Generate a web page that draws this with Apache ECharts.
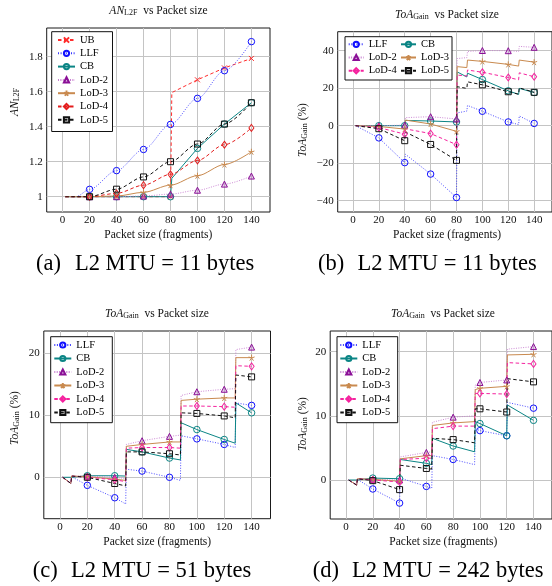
<!DOCTYPE html>
<html>
<head>
<meta charset="utf-8">
<script src="https://cdn.jsdelivr.net/npm/echarts@6/dist/echarts.min.js"></script>
<style>
html, body { margin: 0; padding: 0; background: #fff; }
#chart { width: 552px; height: 586px; }
</style>
</head>
<body>
<div id="chart"></div>
<script>
// Packet sizes (fragments) that carry a marker
const xTicks = [0, 20, 40, 60, 80, 100, 120, 140];

// (a) AN_L2F, L2 MTU = 11 bytes — [packet size, value]
const a_UB   = [[2,1],[20,1],[40,1],[60,1],[80,1],[81,1.595],[100,1.668],[120,1.736],[140,1.79]];
const a_LLF  = [[2,1],[10,1],[20,1.042],[40,1.149],[60,1.27],[80,1.413],[100,1.562],[120,1.72],[140,1.886]];
const a_CB   = [[2,1],[20,1],[40,1],[60,1],[80,1],[81,1.105],[100,1.276],[120,1.415],[140,1.537]];
const a_LoD2 = [[2,1],[20,1],[40,1],[60,1.004],[80,1.015],[100,1.037],[120,1.072],[140,1.118]];
const a_LoD3 = [[2,1],[20,1],[40,1.004],[60,1.025],[80,1.066],[100,1.12],[120,1.184],[140,1.257]];
const a_LoD4 = [[2,1],[20,1],[40,1.019],[60,1.066],[80,1.128],[100,1.207],[120,1.297],[140,1.393]];
const a_LoD5 = [[2,1],[20,1],[40,1.043],[60,1.113],[80,1.2],[100,1.301],[120,1.415],[140,1.537]];
const a_yTicks = [1, 1.2, 1.4, 1.6, 1.8];

// (b) ToA gain (%), L2 MTU = 11 bytes
const b_LLF  = [[2,0],[20,-6.5],[40,-19.7],[40.5,-15.2],[60,-25.8],[80,-38.3],[80.5,6.8],[88,7.8],[88.5,10.8],[100,7.7],[120,2.0],[128,0.6],[128.5,5.2],[140,1.2]];
const b_CB   = [[2,0],[20,0],[40,0],[40.5,2.8],[60,2.5],[80,2.0],[80.5,28.7],[88,26.0],[88.5,28.0],[100,24.6],[120,18.6],[128,16.7],[128.5,19.9],[140,17.7]];
const b_LoD2 = [[2,0],[20,0],[40,0.3],[40.5,4.3],[60,4.8],[80,3.6],[80.5,35.8],[88,36.3],[88.5,39.6],[100,40.1],[120,40.0],[128,39.6],[128.5,42.3],[140,41.8]];
const b_LoD3 = [[2,0],[20,-0.4],[40,-1.8],[40.5,3.0],[60,0.9],[80,-3.0],[80.5,31.5],[88,31.0],[88.5,35.0],[100,34.3],[120,32.7],[128,31.8],[128.5,35.0],[140,33.9]];
const b_LoD4 = [[2,0],[20,-1.0],[40,-4.5],[40.5,-1.7],[60,-4.2],[80,-10.1],[80.5,27.0],[88,26.5],[88.5,29.7],[100,28.5],[120,25.7],[128,24.5],[128.5,28.2],[140,26.1]];
const b_LoD5 = [[2,0],[20,-1.6],[40,-8.0],[40.5,-3.4],[60,-10.0],[80,-18.5],[80.5,20.8],[88,19.9],[88.5,23.4],[100,21.8],[120,18.1],[128,16.8],[128.5,20.2],[140,17.8]];
const b_yTicks = [-40, -20, 0, 20, 40];

// (c) ToA gain (%), L2 MTU = 51 bytes
const c_LLF  = [[2,0],[8,-1.0],[8.5,0.1],[20,-1.3],[40,-3.3],[48,-4.3],[48.5,1.3],[60,1.0],[80,0.0],[88,-0.5],[88.5,6.7],[100,6.2],[120,5.3],[128,4.8],[128.5,12.0],[140,11.6]];
const c_CB   = [[2,0],[8,0],[8.5,0.2],[20,0.25],[40,0.25],[48,0.2],[48.5,4.5],[60,4.1],[80,3.1],[88,2.8],[88.5,8.8],[100,7.7],[120,6.1],[128,5.5],[128.5,12.0],[140,10.4]];
const c_LoD2 = [[2,0],[8,-1.0],[8.5,0.2],[20,0.2],[40,0.0],[48,-0.2],[48.5,5.3],[60,5.9],[80,6.6],[88,6.8],[88.5,13.2],[100,13.8],[120,14.2],[128,14.3],[128.5,20.6],[140,21.0]];
const c_LoD3 = [[2,0],[8,-1.0],[8.5,0.2],[20,0.1],[40,-0.3],[48,-0.5],[48.5,5.0],[60,5.3],[80,5.7],[88,5.7],[88.5,12.4],[100,12.6],[120,12.8],[128,12.8],[128.5,19.3],[140,19.3]];
const c_LoD4 = [[2,0],[8,-1.0],[8.5,0.2],[20,0.0],[40,-0.4],[48,-0.7],[48.5,4.7],[60,4.8],[80,4.8],[88,4.7],[88.5,11.5],[100,11.5],[120,11.4],[128,11.3],[128.5,18.0],[140,17.9]];
const c_LoD5 = [[2,0],[8,-1.0],[8.5,0.2],[20,0.0],[40,-1.0],[48,-1.4],[48.5,4.1],[60,4.1],[80,3.8],[88,3.6],[88.5,10.4],[100,10.3],[120,9.9],[128,9.6],[128.5,16.5],[140,16.2]];
const c_yTicks = [0, 10, 20];

// (d) ToA gain (%), L2 MTU = 242 bytes
const d_LLF  = [[2,0],[8,-0.8],[8.5,0.1],[20,-1.4],[40,-3.6],[40.5,0.3],[60,-1.0],[64,-1.3],[64.5,3.8],[80,3.2],[96,2.4],[96.5,8.0],[100,7.7],[120,6.9],[120.5,12.1],[140,11.2]];
const d_CB   = [[2,0],[8,0],[8.5,0.3],[20,0.3],[40,0.2],[40.5,3.2],[60,2.6],[64,2.4],[64.5,6.5],[80,5.3],[96,4.4],[96.5,9.1],[100,8.8],[120,6.9],[120.5,11.7],[140,9.3]];
const d_LoD2 = [[2,0],[8,-0.8],[8.5,0.2],[20,0.1],[40,0.0],[40.5,3.6],[60,4.3],[64,4.4],[64.5,9.0],[80,9.8],[96,10.0],[96.5,14.8],[100,15.2],[120,15.6],[120.5,20.4],[140,20.8]];
const d_LoD3 = [[2,0],[8,-0.8],[8.5,0.2],[20,0.1],[40,-0.2],[40.5,3.3],[60,3.8],[64,3.8],[64.5,8.5],[80,8.9],[96,9.1],[96.5,14.1],[100,14.3],[120,14.6],[120.5,19.5],[140,19.6]];
const d_LoD4 = [[2,0],[8,-0.8],[8.5,0.2],[20,0.0],[40,-0.3],[40.5,3.2],[60,3.4],[64,3.4],[64.5,8.0],[80,8.4],[96,8.4],[96.5,13.5],[100,13.5],[120,13.4],[120.5,18.3],[140,18.1]];
const d_LoD5 = [[2,0],[8,-0.8],[8.5,0.2],[20,-0.1],[40,-1.5],[40.5,2.3],[60,1.8],[64,1.7],[64.5,6.5],[80,6.3],[96,5.8],[96.5,11.1],[100,11.1],[120,10.6],[120.5,15.8],[140,15.3]];
const d_yTicks = [0, 10, 20];

const SERIF = '"Liberation Serif", "DejaVu Serif", serif';
const MINUS = '\u2212';

// Marker + line style per scheme
const STAR = 'path://M5,0L5,5M5,5L9.76,3.45M5,5L7.94,9.05M5,5L2.06,9.05M5,5L0.24,3.45';
const CROSS = 'path://M0,0L10,10M10,0L0,10';
const styleFor = (name, lod4Color) => ({
  UB:    { line: '#ff2d2d', mark: '#ff2d2d', type: [3.5, 2.5], width: 1,   symbol: CROSS,      size: 5,     fill: 'rgba(0,0,0,0)' },
  LLF:   { line: '#3a3aff', mark: '#1010ff', type: [1, 1.6],   width: 0.9, symbol: 'circle',   size: 6.5,   fill: 'rgba(255,255,255,0)' },
  CB:    { line: '#0b8585', mark: '#0b8585', type: 'solid',    width: 1,   symbol: 'circle',   size: 6.5,   fill: 'rgba(255,255,255,0)' },
  'LoD-2': { line: '#c77ed0', mark: '#8a0f96', type: [1, 1.4], width: 0.9, symbol: 'triangle', size: 6,     fill: 'rgba(190,120,200,0.35)' },
  'LoD-3': { line: '#c98a4f', mark: '#c98a4f', type: 'solid',  width: 1,   symbol: STAR,       size: 6,     fill: 'rgba(0,0,0,0)' },
  'LoD-4': { line: lod4Color,  mark: lod4Color,  type: [3.5, 2.5], width: 1, symbol: 'diamond', size: [5, 7], fill: 'rgba(255,255,255,0)' },
  'LoD-5': { line: '#111111', mark: '#111111', type: [3.5, 2.5], width: 1, symbol: 'rect',     size: 6,     fill: 'rgba(255,255,255,0)' }
})[name];

const panels = [
  { key: 'a', grid: { left: 46.7, right: 282, top: 28, bottom: 374 }, y: [0.9126, 1.964], yTicks: a_yTicks,
    lod4: '#e31d1d', smooth: true,
    series: [['UB', a_UB], ['LLF', a_LLF], ['CB', a_CB], ['LoD-2', a_LoD2], ['LoD-3', a_LoD3], ['LoD-4', a_LoD4], ['LoD-5', a_LoD5]] },
  { key: 'b', grid: { left: 337.7, right: -4.5, top: 31.7, bottom: 374 }, y: [-46.03, 50.13], yTicks: b_yTicks,
    lod4: '#f5239f', smooth: false,
    series: [['LLF', b_LLF], ['CB', b_CB], ['LoD-2', b_LoD2], ['LoD-3', b_LoD3], ['LoD-4', b_LoD4], ['LoD-5', b_LoD5]] },
  { key: 'c', grid: { left: 43.8, right: 281.5, top: 331, bottom: 67.3 }, y: [-6.68, 23.6], yTicks: c_yTicks,
    lod4: '#f5239f', smooth: false,
    series: [['LLF', c_LLF], ['CB', c_CB], ['LoD-2', c_LoD2], ['LoD-3', c_LoD3], ['LoD-4', c_LoD4], ['LoD-5', c_LoD5]] },
  { key: 'd', grid: { left: 330.2, right: -4.4, top: 331, bottom: 67 }, y: [-6.08, 23.23], yTicks: d_yTicks,
    lod4: '#f5239f', smooth: false,
    series: [['LLF', d_LLF], ['CB', d_CB], ['LoD-2', d_LoD2], ['LoD-3', d_LoD3], ['LoD-4', d_LoD4], ['LoD-5', d_LoD5]] }
];

const grids = [], xAxes = [], yAxes = [], series = [];
const fmt = v => String(v).replace('-', MINUS);

panels.forEach((p, i) => {
  grids.push(Object.assign({ show: true, borderColor: '#1a1a1a', borderWidth: 1, backgroundColor: 'transparent', containLabel: false }, p.grid));
  xAxes.push({
    type: 'value', gridIndex: i, min: -11.8, max: 153.8,
    axisLine: { show: false }, axisTick: { show: false, customValues: xTicks },
    axisLabel: { customValues: xTicks, margin: 3, fontFamily: SERIF, fontSize: 11, color: '#111', formatter: fmt },
    splitLine: { show: true, lineStyle: { color: '#c4c4c4', width: 1 } }
  });
  yAxes.push({
    type: 'value', gridIndex: i, min: p.y[0], max: p.y[1],
    axisLine: { show: false }, axisTick: { show: false, customValues: p.yTicks },
    axisLabel: { customValues: p.yTicks, margin: 4, fontFamily: SERIF, fontSize: 11, color: '#111', formatter: fmt },
    splitLine: { show: true, lineStyle: { color: '#c4c4c4', width: 1 } }
  });
  p.series.forEach(([name, pts]) => {
    const st = styleFor(name, p.lod4);
    const smooth = p.smooth && name !== 'UB' && name !== 'CB';
    series.push({
      type: 'line', name: p.key + ':' + name, xAxisIndex: i, yAxisIndex: i,
      data: pts.map(pt => xTicks.includes(pt[0]) ? { value: pt } : { value: pt, symbol: 'none' }),
      symbol: st.symbol, symbolSize: st.size, showAllSymbol: true,
      smooth: smooth ? 0.3 : false, smoothMonotone: 'x',
      lineStyle: { color: st.line, width: st.width, type: st.type },
      itemStyle: { color: st.fill, borderColor: st.mark, borderWidth: 1 },
      emphasis: { disabled: true }, animation: false
    });
  });
});

const legendBase = {
  orient: 'vertical', padding: 0, itemWidth: 17, itemHeight: 6.5, selectedMode: false,
  textStyle: { fontFamily: SERIF, fontSize: 10.5, lineHeight: 12, color: '#000' },
  formatter: n => n.split(':')[1]
};
const legends = [
  Object.assign({}, legendBase, { left: 57, top: 34, itemGap: 1.3, data: ['a:UB', 'a:LLF', 'a:CB', 'a:LoD-2', 'a:LoD-3', 'a:LoD-4', 'a:LoD-5'] }),
  Object.assign({}, legendBase, { left: 347.7, top: 38.3, itemGap: 1.2, itemWidth: 15, data: ['b:LLF', 'b:LoD-2', 'b:LoD-4'] }),
  Object.assign({}, legendBase, { left: 400, top: 38.3, itemGap: 1.2, itemWidth: 15, data: ['b:CB', 'b:LoD-3', 'b:LoD-5'] }),
  Object.assign({}, legendBase, { left: 53.3, top: 339, itemGap: 1.5, data: ['c:LLF', 'c:CB', 'c:LoD-2', 'c:LoD-3', 'c:LoD-4', 'c:LoD-5'] }),
  Object.assign({}, legendBase, { left: 339.3, top: 339, itemGap: 1.5, data: ['d:LLF', 'd:CB', 'd:LoD-2', 'd:LoD-3', 'd:LoD-4', 'd:LoD-5'] })
];

// Text helpers
const richTitle = {
  i: { fontFamily: SERIF, fontStyle: 'italic', fontSize: 11.5, color: '#111' },
  s: { fontFamily: SERIF, fontSize: 8, lineHeight: 6, verticalAlign: 'bottom', color: '#111' },
  n: { fontFamily: SERIF, fontSize: 11.5, color: '#111' }
};
const txt = (x, y, text, extra) => ({
  type: 'text', x, y, silent: true,
  style: Object.assign({ text, align: 'center', verticalAlign: 'middle', rich: richTitle, fontFamily: SERIF, fontSize: 11.5, fill: '#111' }, extra || {})
});
const rotTxt = (x, y, text) => Object.assign(txt(x, y, text), { rotation: Math.PI / 2 });
const box = (x1, y1, x2, y2) => ({
  type: 'rect', silent: true, z: 5,
  shape: { x: x1, y: y1, width: x2 - x1, height: y2 - y1 },
  style: { fill: '#fff', stroke: '#111', lineWidth: 1 }
});
const caption = (xTag, xText, y, tag, text) => [
  { type: 'text', x: xTag, y, silent: true, style: { text: tag, fontFamily: SERIF, fontSize: 22.5, fill: '#000', align: 'left', verticalAlign: 'middle' } },
  { type: 'text', x: xText, y, silent: true, style: { text, fontFamily: SERIF, fontSize: 22.5, fill: '#000', align: 'left', verticalAlign: 'middle' } }
];

const graphics = [
  box(51.7, 31.7, 112.5, 131.5),
  box(345, 36.7, 452, 80),
  box(50.7, 336.7, 112.3, 422.7),
  box(337, 336.7, 397.7, 422.7),
  txt(158.5, 11, '{i|AN}{s|L2F}{n|  vs Packet size}'),
  txt(447, 15, '{i|ToA}{s|Gain}{n|  vs Packet size}'),
  txt(157, 314, '{i|ToA}{s|Gain}{n|  vs Packet size}'),
  txt(443, 314, '{i|ToA}{s|Gain}{n|  vs Packet size}'),
  rotTxt(15, 102, '{i|AN}{s|L2F}'),
  rotTxt(302.7, 130, '{i|ToA}{s|Gain}{n| (%)}'),
  rotTxt(15, 418, '{i|ToA}{s|Gain}{n| (%)}'),
  rotTxt(302.7, 424, '{i|ToA}{s|Gain}{n| (%)}'),
  txt(158.3, 235, '{n|Packet size (fragments)}'),
  txt(447, 235, '{n|Packet size (fragments)}'),
  txt(157.2, 541.7, '{n|Packet size (fragments)}'),
  txt(443.3, 541.7, '{n|Packet size (fragments)}'),
  ...caption(36, 75, 264, '(a)', 'L2 MTU = 11 bytes'),
  ...caption(318, 357.5, 264, '(b)', 'L2 MTU = 11 bytes'),
  ...caption(32.7, 71, 571.3, '(c)', 'L2 MTU = 51 bytes'),
  ...caption(312.7, 352, 571.3, '(d)', 'L2 MTU = 242 bytes')
];

const chart = echarts.init(document.getElementById('chart'), null, { renderer: 'canvas' });
chart.setOption({
  animation: false,
  backgroundColor: '#fff',
  grid: grids,
  xAxis: xAxes,
  yAxis: yAxes,
  legend: legends.map(l => Object.assign({ z: 10 }, l)),
  graphic: { elements: graphics },
  series: series
});
</script>
</body>
</html>
